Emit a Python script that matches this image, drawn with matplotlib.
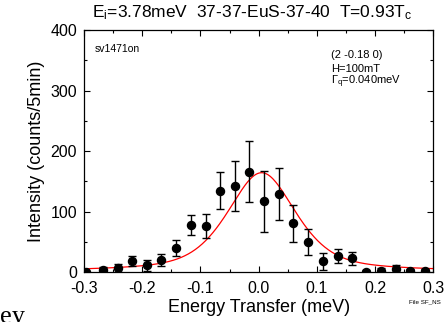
import numpy as np
import matplotlib
matplotlib.use("Agg")
import matplotlib.pyplot as plt
from matplotlib.ticker import MultipleLocator

plt.rcParams["font.family"] = ["Liberation Sans", "DejaVu Sans"]
plt.rcParams["mathtext.fontset"] = "custom"
plt.rcParams["mathtext.rm"] = "Liberation Sans"
plt.rcParams["mathtext.it"] = "Liberation Sans:italic"

# measured scan points (energy transfer in meV, counts per 5 min)
energy = [-0.297, -0.267, -0.241, -0.217, -0.191, -0.167, -0.142, -0.116,
          -0.091, -0.066, -0.041, -0.016, 0.009, 0.035, 0.059, 0.085,
          0.110, 0.136, 0.161, 0.185, 0.210, 0.235, 0.260, 0.285]
counts = [1, 4, 7.5, 19, 12, 20, 40, 78,
          77, 135, 142, 166, 117, 129, 81, 50,
          18.5, 27, 23, 0, 2.5, 5.5, 2, 2]
errors = [2, 5, 6, 8.5, 9, 10, 13, 16.5,
          20, 30, 41, 50, 50, 43, 31, 21,
          14, 12, 11, 4, 4, 6, 3, 3]
xtick_labels = ["-0.3", "-0.2", "-0.1", "0.0", "0.1", "0.2", "0.3"]

# fit parameters (pseudo-Voigt line shape on a flat background)
fit_center = 0.005
fit_amp = 163.0
fit_hwhm = 0.07
fit_eta = 0.55
fit_bg = 1.5

e_fit = np.linspace(-0.3, 0.3, 400)
u = (e_fit - fit_center) / fit_hwhm
fit_curve = fit_bg + fit_amp * (fit_eta / (1 + u ** 2)
                                + (1 - fit_eta) * np.exp(-np.log(2) * u ** 2))

fig = plt.figure(figsize=(4.48, 3.22), dpi=100)
ax = fig.add_axes([0.1875, 0.154, 0.780, 0.753])

ax.plot(e_fit, fit_curve, color="#ff0000", lw=0.9, zorder=2)
ax.errorbar(energy, counts, yerr=errors, fmt="o", color="black", ms=5.8,
            elinewidth=1.0, capsize=3, capthick=1.0, zorder=3)

ax.set_xlim(-0.3, 0.3)
ax.set_ylim(0, 400)
ax.set_xticks([-0.3, -0.2, -0.1, 0.0, 0.1, 0.2, 0.3])
ax.set_xticklabels(xtick_labels)
ax.xaxis.set_minor_locator(MultipleLocator(0.05))
ax.yaxis.set_major_locator(MultipleLocator(100))
ax.yaxis.set_minor_locator(MultipleLocator(50))
ax.tick_params(which="both", direction="in", top=True, right=True,
               width=0.8, labelsize=11.5)
ax.tick_params(axis="x", pad=6)
ax.tick_params(axis="y", pad=5)
ax.tick_params(which="major", length=4.5)
ax.tick_params(which="minor", length=2.5)
for s in ax.spines.values():
    s.set_linewidth(0.9)

ax.set_xlabel("Energy Transfer (meV)", fontsize=13, labelpad=2)
ax.set_ylabel("Intensity (counts/5min)", fontsize=13, labelpad=4)

fig.text(0.5636, 0.947,
         r"E$_\mathregular{i}$=3.78meV  37-37-EuS-37-40  T=0.93T$_\mathregular{c}$",
         ha="center", va="baseline", fontsize=12.5)

fig.text(95 / 448, 1 - 49 / 322, "sv1471on", fontsize=7.5, va="center")
fig.text(331 / 448, 1 - 55 / 322, "(2 -0.18 0)", fontsize=8, va="center")
fig.text(331 / 448, 1 - 68.5 / 322, "H=100mT", fontsize=8, va="center")
fig.text(331 / 448, 1 - 82 / 322, r"$\Gamma_\mathregular{q}$=0.040meV",
         fontsize=8, va="center")

fig.text(409 / 448, 1 - 302 / 322, "File SF_NS", fontsize=4.5, va="center")
fig.text(0.0, 1 - 306 / 322, "ey", fontsize=19, va="top",
         family=["Liberation Serif", "DejaVu Serif"])

fig.savefig("out.png", dpi=100)
